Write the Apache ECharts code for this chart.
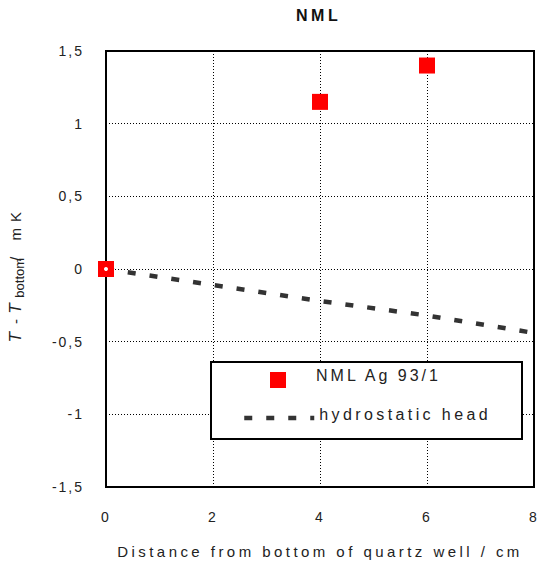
<!DOCTYPE html>
<html><head><meta charset="utf-8">
<script src="https://cdn.jsdelivr.net/npm/echarts/dist/echarts.min.js"></script>
<style>html,body{margin:0;padding:0;background:#fff}#c{width:538px;height:564px}#c text{white-space:pre}</style>
</head><body><div id="c"></div>
<script>
const sampleX = [0, 4, 6];
const sampleY = [0, 1.15, 1.4];
const headX = [0, 2, 4, 6, 8];
const headY = [0, -0.11, -0.22, -0.32, -0.44];
const yTickValues = [-1.5, -1, -0.5, 0, 0.5, 1, 1.5];
const yTickLabels = ['-1,5', '-1', '-0,5', '0', '0,5', '1', '1,5'];
const xTickValues = [0, 2, 4, 6, 8];
const xTickLabels = ['0', '2', '4', '6', '8'];
const seriesNames = ['NML Ag 93/1', 'hydrostatic head'];
const titleText = 'NML';
const xAxisTitle = 'Distance from bottom of quartz well / cm';
const yAxisTitle = '{i|T}{n|-}{j|T}{s|bottom}{u|/ mK}';

const FF = 'Liberation Sans, Arial, Helvetica, sans-serif';
function lookup(vals, labels, v) {
  const i = vals.findIndex(t => Math.abs(t - v) < 1e-9);
  return i >= 0 ? labels[i] : String(v);
}
const headLine = {color: '#333', width: 4.5, type: [8, 14]};

const chart = echarts.init(document.getElementById('c'), null, {renderer: 'svg'});
chart.setOption({
  animation: false,
  backgroundColor: '#fff',
  title: {
    text: titleText, left: 296, top: 7, padding: 0,
    textStyle: {fontSize: 16, fontWeight: 'bold', color: '#111', fontFamily: FF}
  },
  grid: {left: 106, right: 4, top: 51, bottom: 77, show: true, borderColor: '#000', borderWidth: 2,
    backgroundColor: 'transparent', outerBoundsMode: 'none', containLabel: false},
  legend: [
    {
      data: [{name: seriesNames[0], icon: 'rect'}],
      left: 270, top: 367, itemWidth: 16, itemHeight: 16, padding: 0, selectedMode: false,
      itemStyle: {color: '#ff0000', opacity: 1},
      formatter: '{t|{name}}',
      textStyle: {fontSize: 16, color: '#222', fontFamily: FF,
        rich: {t: {fontSize: 16, color: '#222', fontFamily: FF, padding: [0, 0, 10, 25]}}}
    },
    {
      data: [seriesNames[1]],
      left: 242, top: 406, itemWidth: 70, itemHeight: 14, padding: 0, selectedMode: false,
      itemStyle: {opacity: 0},
      lineStyle: headLine,
      formatter: '{t|{name}}',
      textStyle: {fontSize: 16, color: '#222', fontFamily: FF,
        rich: {t: {fontSize: 16, color: '#222', fontFamily: FF, padding: [0, 0, 8, 0]}}}
    }
  ],
  graphic: [{
    type: 'rect', left: 210, top: 361, z: 3,
    shape: {width: 311, height: 77},
    style: {fill: '#fff', stroke: '#000', lineWidth: 2}
  }],
  xAxis: {
    type: 'value', min: 0, max: 8, interval: 2,
    axisLine: {onZero: false, lineStyle: {color: '#000', width: 2}},
    axisTick: {show: false},
    axisLabel: {margin: 23, fontSize: 14, color: '#222', fontFamily: FF,
      formatter: v => lookup(xTickValues, xTickLabels, v)},
    splitLine: {show: true, lineStyle: {color: '#000', width: 1, type: [1, 2]}},
    name: xAxisTitle, nameLocation: 'middle', nameGap: 57,
    nameTextStyle: {fontSize: 15, color: '#222', fontFamily: FF}
  },
  yAxis: {
    type: 'value', min: -1.5, max: 1.5, interval: 0.5,
    axisLine: {onZero: false, lineStyle: {color: '#000', width: 2}},
    axisTick: {show: false},
    axisLabel: {margin: 22, fontSize: 14, color: '#222', fontFamily: FF,
      formatter: v => lookup(yTickValues, yTickLabels, v)},
    splitLine: {show: true, lineStyle: {color: '#000', width: 1, type: [1, 2]}},
    name: yAxisTitle, nameLocation: 'middle', nameGap: 80, nameRotate: 90,
    nameTextStyle: {
      fontSize: 15, color: '#222', fontFamily: FF, lineHeight: 22,
      rich: {
        i: {fontStyle: 'italic', fontSize: 17, color: '#222', fontFamily: FF, lineHeight: 22, padding: [0, 4, 0, 0]},
        n: {fontSize: 15, color: '#222', fontFamily: FF, lineHeight: 22, padding: [0, 5.3, 0, 4.3]},
        j: {fontStyle: 'italic', fontSize: 17, color: '#222', fontFamily: FF, lineHeight: 22, padding: [0, 5.6, 0, 0]},
        s: {fontSize: 13, color: '#222', fontFamily: FF, lineHeight: 18, verticalAlign: 'bottom'},
        u: {fontSize: 15, color: '#222', fontFamily: FF, lineHeight: 22, padding: [0, 22.7, 0, 9]}
      }
    }
  },
  series: [
    {
      type: 'line', name: seriesNames[1],
      data: headX.map((x, i) => [x, headY[i]]),
      symbol: 'none', z: 2, silent: true,
      lineStyle: headLine,
      itemStyle: {color: '#333'}
    },
    {
      type: 'scatter', name: seriesNames[0],
      data: sampleX.map((x, i) => [x, sampleY[i]]),
      symbol: 'rect', symbolSize: 16, z: 3, silent: true,
      itemStyle: {color: '#ff0000', opacity: 1}
    },
    {
      type: 'scatter', name: 'origin',
      data: [[headX[0], headY[0]]],
      symbol: 'circle', symbolSize: 4, z: 4, silent: true,
      itemStyle: {color: '#fff', opacity: 1}
    }
  ]
});

function applySpacing() {
  document.querySelectorAll('#c svg text').forEach(t => {
    const s = t.textContent;
    let ls = '2px';
    if (s === titleText) ls = '3.5px';
    else if (s === seriesNames[0]) ls = '3px';
    else if (s === seriesNames[1]) ls = '3.4px';
    else if (s === xAxisTitle) ls = '3.45px';
    else if (s === 'bottom' || s.trim() === 'T' || s.trim() === '-') ls = '0px';
    else if (s.indexOf('mK') >= 0) ls = '6px';
    t.style.letterSpacing = ls;
  });
}
applySpacing();
chart.on('finished', applySpacing);
</script>
</body></html>
